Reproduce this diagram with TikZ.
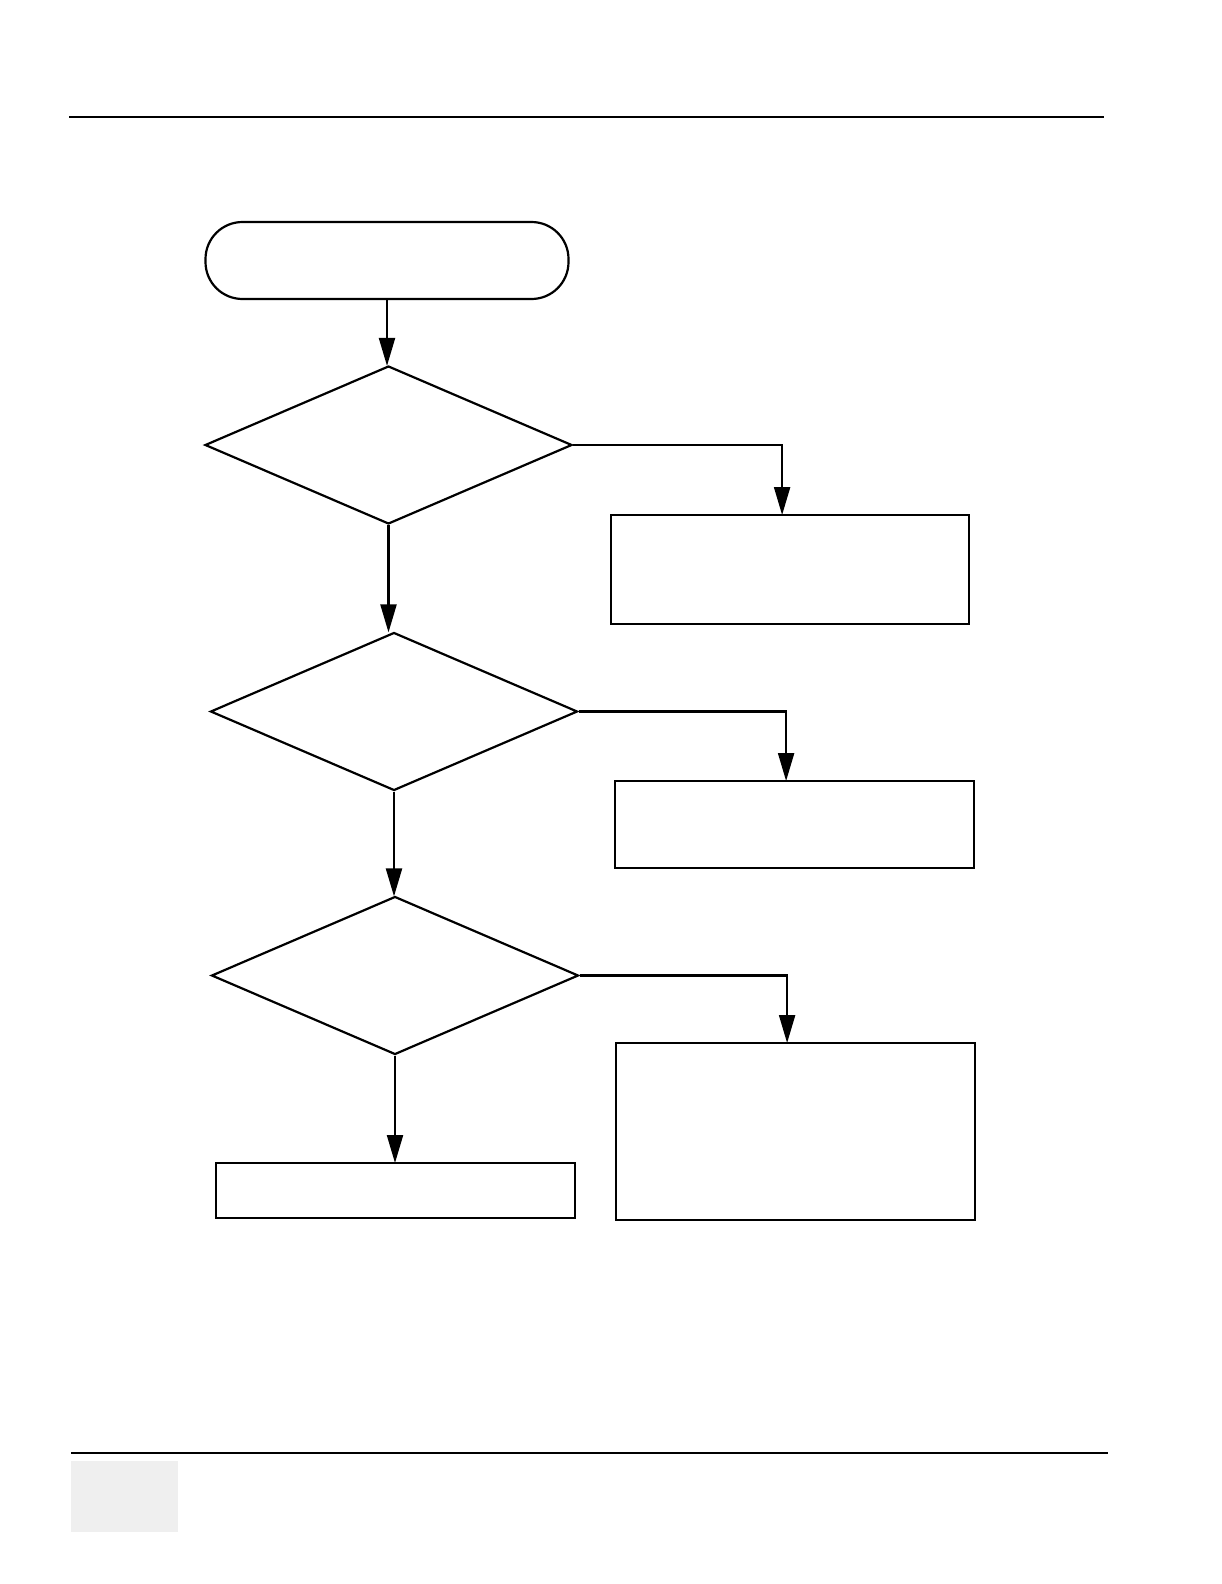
\documentclass[tikz,border=0pt]{standalone}
\usetikzlibrary{shapes.geometric,arrows.meta}
\definecolor{footgray}{HTML}{EFEFEF}
\tikzset{
  ln/.style={line width=2.2pt},
  boxnode/.style={draw, ln, rectangle, inner sep=0pt, anchor=north west},
  decision/.style={draw, ln, diamond, inner sep=0pt, minimum width=367pt, minimum height=158pt},
  terminal/.style={draw, ln, rectangle, rounded corners=37pt, inner sep=0pt, minimum width=363pt, minimum height=77pt},
  arr/.style={ln, -{Triangle[length=28pt,width=16pt]}, shorten >=-1pt}
}
\begin{document}
\begin{tikzpicture}[x=1pt,y=-1pt]
\useasboundingbox (0,0) rectangle (1222,1584);
% header and footer rules
\coordinate (hl) at (69,117); \coordinate (hr) at (1104,117);
\draw[line width=2.4pt] (hl) -- (hr);
\coordinate (fl) at (71,1453); \coordinate (fr) at (1108,1453);
\draw[line width=1.6pt] (fl) -- (fr);
\fill[footgray] (71,1461) rectangle (178,1532);
% shapes
\node[terminal] (start) at (387,260.5) {};
\node[decision] (d1) at (388.5,445) {};
\node[decision] (d2) at (394,711.5) {};
\node[decision] (d3) at (395,975.5) {};
\node[boxnode, minimum width=358pt, minimum height=109pt] (b1) at (610,514) {};
\node[boxnode, minimum width=359pt, minimum height=87pt] (b2) at (614,780) {};
\node[boxnode, minimum width=359pt, minimum height=177pt] (b3) at (615,1042) {};
\node[boxnode, minimum width=359pt, minimum height=55pt] (b4) at (215,1162) {};
% connectors
\draw[arr] (start.south) -- (start.south |- d1.north);
\draw[arr] (d1.south) -- (d1.south |- d2.north);
\draw[arr] (d2.south) -- (d2.south |- d3.north);
\draw[arr] (d3.south) -- (d3.south |- b4.north);
\draw[arr] (d1.east) -| ([xshift=-8pt]b1.north);
\draw[arr] (d2.east) -| ([xshift=-8.5pt]b2.north);
\draw[arr] (d3.east) -| ([xshift=-8.5pt]b3.north);
\end{tikzpicture}
\end{document}
